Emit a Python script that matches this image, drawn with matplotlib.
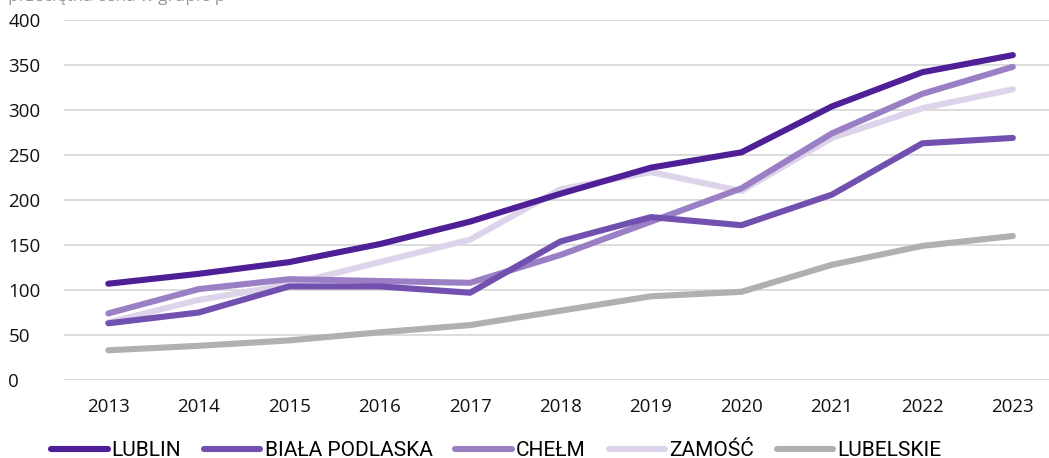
import matplotlib
matplotlib.use("Agg")
import matplotlib.pyplot as plt

years = [2013, 2014, 2015, 2016, 2017, 2018, 2019, 2020, 2021, 2022, 2023]
lublin = [107, 118, 131, 151, 176, 207, 236, 253, 304, 342, 361]
biala = [63, 75, 104, 104, 97, 154, 181, 172, 206, 263, 269]
chelm = [74, 101, 112, 110, 108, 139, 176, 213, 274, 318, 348]
zamosc = [64, 89, 106, 131, 156, 212, 231, 210, 269, 302, 323]
lubelskie = [33, 38, 44, 53, 61, 77, 93, 98, 128, 149, 160]

names = ["LUBLIN", "BIAŁA PODLASKA", "CHEŁM", "ZAMOŚĆ", "LUBELSKIE"]
series = [lublin, biala, chelm, zamosc, lubelskie]
colors = ["#4f1f98", "#7150b0", "#9a7fc4", "#ddd3ea", "#b0b0b0"]

plt.rcParams['font.family'] = ['Open Sans', 'DejaVu Sans']

fig = plt.figure(figsize=(10.49, 4.58), dpi=100)
ax = fig.add_axes([0.061, 0.1703, 0.939, 0.786])

# linie w odwrotnej kolejnosci, zeby LUBLIN byl na wierzchu
for name, vals, col in reversed(list(zip(names, series, colors))):
    ax.plot(years, vals, color=col, lw=4.4, solid_capstyle='round',
            solid_joinstyle='round', label=name, clip_on=False)

ax.set_ylim(0, 400)
ax.set_xlim(2012.51, 2023.4)
ax.set_yticks(range(0, 401, 50))
ax.set_xticks(years)
ax.grid(axis='y', color='#d9d9d9', lw=1.3)
ax.set_axisbelow(True)
for s in ax.spines.values():
    s.set_visible(False)
ax.tick_params(length=0, labelsize=13.5, colors='#111111')
ax.tick_params(axis='y', pad=40)
ax.tick_params(axis='x', pad=13)
for lab in ax.get_yticklabels():
    lab.set_ha('left')

# obciety podtytul u gory (w oryginale tez ucięty)
fig.text(0.008, 0.9985, "przeciętna cena w grupie p", color='#9a9a9a',
         fontsize=12.5, va='baseline')

handles, labels = ax.get_legend_handles_labels()
order = [labels.index(n) for n in names]
fig.legend([handles[i] for i in order], names, loc='lower left',
           bbox_to_anchor=(0.031, -0.045), ncol=5, frameon=False,
           prop={'family': 'Roboto', 'size': 15},
           handlelength=2.7, handletextpad=0.2, columnspacing=1.1)

fig.savefig("out.png", dpi=100)
